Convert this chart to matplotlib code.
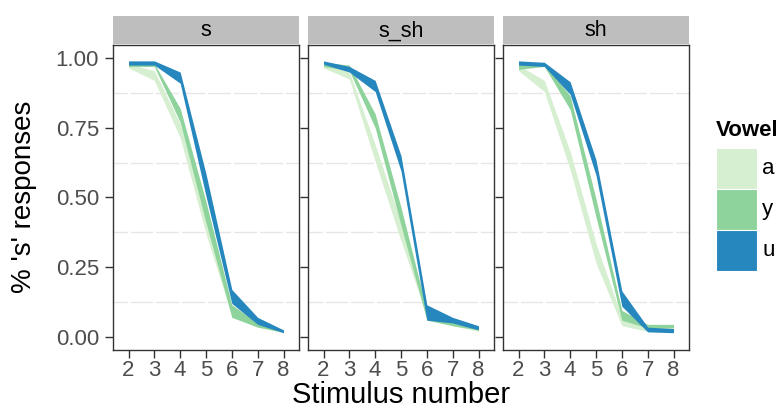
import matplotlib.pyplot as plt
from matplotlib.patches import Rectangle

plt.rcParams['font.family'] = ['Liberation Sans', 'DejaVu Sans']

stimulus = [2, 3, 4, 5, 6, 7, 8]
contexts = ['s', 's_sh', 'sh']
vowels = ['a', 'y', 'u']
colors = ['#d5efd0', '#8fd39c', '#2687be']

# lower / upper band of '% s responses' per context and vowel
s_a_lo = [0.965, 0.920, 0.715, 0.370, 0.075, 0.035, 0.015]
s_a_hi = [0.980, 0.955, 0.765, 0.440, 0.105, 0.045, 0.025]
s_y_lo = [0.970, 0.970, 0.770, 0.410, 0.070, 0.035, 0.017]
s_y_hi = [0.980, 0.980, 0.820, 0.485, 0.115, 0.050, 0.025]
s_u_lo = [0.975, 0.975, 0.910, 0.505, 0.120, 0.045, 0.015]
s_u_hi = [0.990, 0.990, 0.950, 0.585, 0.170, 0.070, 0.025]

ssh_a_lo = [0.965, 0.925, 0.630, 0.345, 0.075, 0.040, 0.020]
ssh_a_hi = [0.980, 0.950, 0.690, 0.410, 0.110, 0.055, 0.030]
ssh_y_lo = [0.970, 0.955, 0.750, 0.400, 0.060, 0.040, 0.025]
ssh_y_hi = [0.985, 0.975, 0.800, 0.465, 0.095, 0.055, 0.035]
ssh_u_lo = [0.978, 0.950, 0.880, 0.595, 0.060, 0.050, 0.025]
ssh_u_hi = [0.990, 0.970, 0.920, 0.650, 0.115, 0.070, 0.040]

sh_a_lo = [0.955, 0.880, 0.600, 0.265, 0.040, 0.020, 0.020]
sh_a_hi = [0.975, 0.920, 0.665, 0.335, 0.070, 0.035, 0.030]
sh_y_lo = [0.960, 0.970, 0.815, 0.430, 0.060, 0.032, 0.032]
sh_y_hi = [0.980, 0.980, 0.865, 0.495, 0.095, 0.045, 0.045]
sh_u_lo = [0.975, 0.970, 0.870, 0.580, 0.110, 0.018, 0.015]
sh_u_hi = [0.990, 0.985, 0.915, 0.635, 0.165, 0.035, 0.030]

bands = [
    [(s_a_lo, s_a_hi), (s_y_lo, s_y_hi), (s_u_lo, s_u_hi)],
    [(ssh_a_lo, ssh_a_hi), (ssh_y_lo, ssh_y_hi), (ssh_u_lo, ssh_u_hi)],
    [(sh_a_lo, sh_a_hi), (sh_y_lo, sh_y_hi), (sh_u_lo, sh_u_hi)],
]

W, H = 784, 412
fig = plt.figure(figsize=(W / 100, H / 100), dpi=100)

lefts = [113, 308, 503]
pw = 186
top, bottom = 45, 350
tick_col = '#4d4d4d'

for i, ctx in enumerate(contexts):
    ax = fig.add_axes([lefts[i] / W, 1 - bottom / H, pw / W, (bottom - top) / H])
    ax.set_xlim(1.4, 8.6)
    ax.set_ylim(-0.047, 1.047)

    # minor grid (grey) broken by white major verticals
    for yv in [0.125, 0.375, 0.625, 0.875]:
        ax.axhline(yv, color='#e6e6e6', lw=1.0, zorder=0)
    for xv in stimulus:
        ax.axvline(xv, color='white', lw=2.0, zorder=0.5)

    for (lo, hi), c in zip(bands[i], colors):
        ax.fill_between(stimulus, lo, hi, color=c, lw=0, zorder=2)

    ax.set_xticks(stimulus)
    ax.set_xticklabels([str(v) for v in stimulus], fontsize=16, color=tick_col)
    ax.set_yticks([0, 0.25, 0.5, 0.75, 1.0])
    if i == 0:
        ax.set_yticklabels(['0.00', '0.25', '0.50', '0.75', '1.00'], fontsize=16, color=tick_col)
    else:
        ax.set_yticklabels([])
        ax.tick_params(axis='y', length=0)
    ax.tick_params(length=6, width=1, color='#333333')
    ax.tick_params(axis='y', pad=4)
    ax.tick_params(axis='x', pad=1)
    for sp in ax.spines.values():
        sp.set_color('#333333')
        sp.set_linewidth(1.0)

    # strip
    sax = fig.add_axes([lefts[i] / W, 1 - 44 / H, pw / W, 28 / H])
    sax.set_facecolor('#bebebe')
    sax.set_xticks([])
    sax.set_yticks([])
    for sp in sax.spines.values():
        sp.set_visible(False)
    sax.text(0.5, 0.47, ctx, ha='center', va='center', fontsize=15.5, color='black',
             transform=sax.transAxes)

fig.text(401 / W, 1 - 395 / H, 'Stimulus number', ha='center', va='center', fontsize=21)
fig.text(24 / W, 1 - 197 / H, "% 's' responses", ha='center', va='center', fontsize=20,
         rotation=90)

# legend drawn by hand to match ggplot key sizes
fig.text(716 / W, 1 - 131 / H, 'Vowel', ha='left', va='center', fontsize=16, fontweight='bold')
key_top = 148
key = 41
for j, (v, c) in enumerate(zip(vowels, colors)):
    y0 = key_top + j * key
    fig.add_artist(Rectangle((716 / W, 1 - (y0 + key) / H), key / W, key / H,
                             transform=fig.transFigure, facecolor=c, edgecolor='white', lw=0.8))
    fig.text(762 / W, 1 - (y0 + key / 2) / H, v, ha='left', va='center', fontsize=16)

fig.savefig('out.png', dpi=100)
